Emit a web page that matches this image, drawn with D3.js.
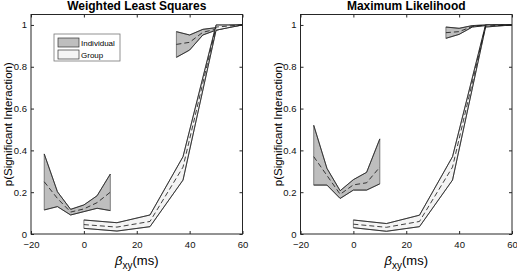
<!DOCTYPE html>
<html>
<head>
<meta charset="utf-8">
<script src="https://cdn.jsdelivr.net/npm/d3@7"></script>
<style>
  body { margin: 0; background: #fff; }
  svg { display: block; font-family: "Liberation Sans", Arial, Helvetica, sans-serif; }
</style>
</head>
<body>
<div id="chart"></div>
<script>
// x positions of the two sample sets
const indXLow = [-15, -10, -5, 0, 5, 10];
const indXHigh = [35, 40, 45, 50, 55, 60];
const groupX = [0, 12.5, 25, 37.5, 50, 60];

// Weighted Least Squares
const wlsIndLowLower = [0.115, 0.131, 0.091, 0.107, 0.123, 0.112];
const wlsIndLowMean = [0.25, 0.17, 0.105, 0.12, 0.15, 0.2];
const wlsIndLowUpper = [0.383, 0.202, 0.118, 0.139, 0.183, 0.287];
const wlsIndHighLower = [0.845, 0.88, 0.952, 0.975, 0.99, 1.0];
const wlsIndHighMean = [0.907, 0.917, 0.965, 0.98, 0.995, 1.0];
const wlsIndHighUpper = [0.968, 0.952, 0.979, 0.987, 0.998, 1.0];
const wlsGroupLower = [0.027, 0.014, 0.035, 0.258, 0.975, 1.0];
const wlsGroupMean = [0.045, 0.033, 0.06, 0.32, 0.99, 1.0];
const wlsGroupUpper = [0.067, 0.054, 0.091, 0.37, 1.0, 1.0];

// Maximum Likelihood
const mlIndLowLower = [0.234, 0.234, 0.17, 0.21, 0.21, 0.24];
const mlIndLowMean = [0.37, 0.28, 0.19, 0.235, 0.245, 0.32];
const mlIndLowUpper = [0.52, 0.314, 0.207, 0.26, 0.295, 0.455];
const mlIndHighLower = [0.936, 0.955, 0.99, 0.997, 1.0, 1.0];
const mlIndHighMean = [0.963, 0.968, 0.993, 0.999, 1.0, 1.0];
const mlIndHighUpper = [0.99, 0.984, 0.997, 1.0, 1.0, 1.0];
const mlGroupLower = [0.03, 0.013, 0.035, 0.258, 0.99, 1.0];
const mlGroupMean = [0.047, 0.032, 0.06, 0.32, 0.995, 1.0];
const mlGroupUpper = [0.067, 0.05, 0.09, 0.37, 1.0, 1.0];

const xTicks = [-20, 0, 20, 40, 60];
const yTicks = [0, 0.2, 0.4, 0.6, 0.8, 1];
const legendLabels = ["Individual", "Group"];

const zip = (xs, lo, mid, hi) => xs.map((x, i) => ({ x: x, lo: lo[i], mid: mid[i], hi: hi[i] }));

const panels = [
  {
    title: "Weighted Least Squares", left: 31, legend: true,
    ind: [zip(indXLow, wlsIndLowLower, wlsIndLowMean, wlsIndLowUpper),
          zip(indXHigh, wlsIndHighLower, wlsIndHighMean, wlsIndHighUpper)],
    group: zip(groupX, wlsGroupLower, wlsGroupMean, wlsGroupUpper)
  },
  {
    title: "Maximum Likelihood", left: 300.5, legend: false,
    ind: [zip(indXLow, mlIndLowLower, mlIndLowMean, mlIndLowUpper),
          zip(indXHigh, mlIndHighLower, mlIndHighMean, mlIndHighUpper)],
    group: zip(groupX, mlGroupLower, mlGroupMean, mlGroupUpper)
  }
];

const W = 517, H = 273;
const plotW = 211.5, plotTop = 14.5, plotBottom = 234;
const indFill = "#bebebe", groupFill = "#f4f4f4";

const svg = d3.select("#chart").append("svg")
  .attr("width", W)
  .attr("height", H);

panels.forEach((p, pi) => {
  const x = d3.scaleLinear().domain([-20, 60]).range([p.left, p.left + plotW]);
  const y = d3.scaleLinear().domain([0, 1.05]).range([plotBottom, plotTop]);

  const g = svg.append("g");

  const clipId = "clip" + pi;
  svg.append("clipPath").attr("id", clipId)
    .append("rect")
    .attr("x", p.left).attr("y", plotTop)
    .attr("width", plotW).attr("height", plotBottom - plotTop);

  const plot = g.append("g").attr("clip-path", `url(#${clipId})`);

  const area = d3.area().x(d => x(d.x)).y0(d => y(d.lo)).y1(d => y(d.hi));
  const lineLo = d3.line().x(d => x(d.x)).y(d => y(d.lo));
  const lineHi = d3.line().x(d => x(d.x)).y(d => y(d.hi));
  const lineMid = d3.line().x(d => x(d.x)).y(d => y(d.mid));

  function band(data, fill) {
    plot.append("path")
      .datum(data)
      .attr("d", area)
      .attr("fill", fill)
      .attr("stroke", "#555")
      .attr("stroke-width", 0.7)
      .attr("stroke-linejoin", "round");
    [lineLo, lineHi].forEach(l => {
      plot.append("path")
        .datum(data)
        .attr("d", l)
        .attr("fill", "none")
        .attr("stroke", "#222")
        .attr("stroke-width", 0.8);
    });
    plot.append("path")
      .datum(data)
      .attr("d", lineMid)
      .attr("fill", "none")
      .attr("stroke", "#111")
      .attr("stroke-width", 0.8)
      .attr("stroke-dasharray", "5,3");
  }

  p.ind.forEach(seg => band(seg, indFill));
  band(p.group, groupFill);

  // box
  g.append("rect")
    .attr("x", p.left).attr("y", plotTop)
    .attr("width", plotW).attr("height", plotBottom - plotTop)
    .attr("fill", "none")
    .attr("stroke", "#262626")
    .attr("stroke-width", 1);

  const fmt = d => d3.format("~g")(d);

  g.append("g")
    .attr("transform", `translate(0,${plotBottom})`)
    .call(d3.axisBottom(x).tickValues(xTicks).tickSizeInner(-3).tickSizeOuter(0).tickPadding(7).tickFormat(fmt));
  g.append("g")
    .attr("transform", `translate(0,${plotTop})`)
    .call(d3.axisTop(x).tickValues(xTicks).tickSizeInner(-3).tickSizeOuter(0).tickFormat(""));
  g.append("g")
    .attr("transform", `translate(${p.left},0)`)
    .call(d3.axisLeft(y).tickValues(yTicks).tickSizeInner(-3).tickSizeOuter(0).tickPadding(4).tickFormat(fmt));
  g.append("g")
    .attr("transform", `translate(${p.left + plotW},0)`)
    .call(d3.axisRight(y).tickValues(yTicks).tickSizeInner(-3).tickSizeOuter(0).tickFormat(""));

  g.selectAll(".domain").remove();
  g.selectAll(".tick line").attr("stroke", "#262626");
  g.selectAll(".tick text")
    .attr("fill", "#111")
    .style("font-size", "9.5px")
    .style("font-family", "Liberation Sans, Arial, sans-serif");

  const cx = p.left + plotW / 2;

  // title
  g.append("text")
    .attr("x", cx).attr("y", 10)
    .attr("text-anchor", "middle")
    .style("font-size", "12px")
    .style("font-weight", "bold")
    .text(p.title);

  // y label
  g.append("text")
    .attr("transform", `translate(${p.left - 19},${(plotTop + plotBottom) / 2}) rotate(-90)`)
    .attr("text-anchor", "middle")
    .style("font-size", "11.5px")
    .text("p(Significant Interaction)");

  // x label
  const xl = g.append("text")
    .attr("x", cx).attr("y", 265)
    .attr("text-anchor", "middle")
    .style("font-size", "13px");
  xl.append("tspan").style("font-style", "italic").text("β");
  xl.append("tspan").attr("dy", 4).style("font-size", "10px").text("xy");
  xl.append("tspan").attr("dy", -4).text("(ms)");

  if (p.legend) {
    const lg = g.append("g").attr("transform", "translate(54,34)");
    lg.append("rect")
      .attr("width", 66).attr("height", 27)
      .attr("fill", "#fff")
      .attr("stroke", "#777")
      .attr("stroke-width", 0.8);
    [indFill, groupFill].forEach((c, i) => {
      lg.append("rect")
        .attr("x", 4).attr("y", 4 + i * 12)
        .attr("width", 21).attr("height", 9)
        .attr("fill", c)
        .attr("stroke", "#333")
        .attr("stroke-width", 0.7);
      lg.append("text")
        .attr("x", 27).attr("y", 11.5 + i * 12)
        .style("font-size", "8px")
        .text(legendLabels[i]);
    });
  }
});
</script>
</body>
</html>
